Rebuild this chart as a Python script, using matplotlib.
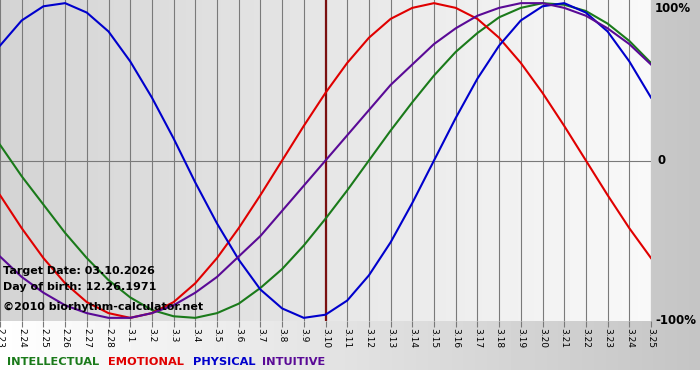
import matplotlib
matplotlib.use("Agg")
import matplotlib.pyplot as plt
import numpy as np

days = ["2.23", "2.24", "2.25", "2.26", "2.27", "2.28",
        "3.1", "3.2", "3.3", "3.4", "3.5", "3.6", "3.7", "3.8", "3.9", "3.10",
        "3.11", "3.12", "3.13", "3.14", "3.15", "3.16", "3.17", "3.18", "3.19",
        "3.20", "3.21", "3.22", "3.23", "3.24", "3.25"]

physical = [0.73, 0.89, 0.98, 1.00, 0.94, 0.82, 0.63, 0.40, 0.14, -0.14, -0.40,
            -0.63, -0.82, -0.94, -1.00, -0.98, -0.89, -0.73, -0.52, -0.27, 0.00,
            0.27, 0.52, 0.73, 0.89, 0.98, 1.00, 0.94, 0.82, 0.63, 0.40]
emotional = [-0.22, -0.43, -0.62, -0.78, -0.90, -0.97, -1.00, -0.97, -0.90, -0.78,
             -0.62, -0.43, -0.22, 0.00, 0.22, 0.43, 0.62, 0.78, 0.90, 0.97, 1.00,
             0.97, 0.90, 0.78, 0.62, 0.43, 0.22, 0.00, -0.22, -0.43, -0.62]
intellectual = [0.10, -0.10, -0.28, -0.46, -0.62, -0.76, -0.87, -0.95, -0.99, -1.00,
                -0.97, -0.91, -0.81, -0.69, -0.54, -0.37, -0.19, 0.00, 0.19, 0.37,
                0.54, 0.69, 0.81, 0.91, 0.97, 1.00, 0.99, 0.95, 0.87, 0.76, 0.62]
intuitive = [-0.61, -0.74, -0.84, -0.92, -0.97, -1.00, -1.00, -0.97, -0.92, -0.84,
             -0.74, -0.61, -0.48, -0.32, -0.16, 0.00, 0.16, 0.32, 0.48, 0.61, 0.74,
             0.84, 0.92, 0.97, 1.00, 1.00, 0.97, 0.92, 0.84, 0.74, 0.61]

target_idx = 15  # 3.10

green = "#1a7a1a"
red = "#e00000"
blue = "#0000cc"
purple = "#5a0a96"

fig = plt.figure(figsize=(7, 3.8), dpi=100)

# figure background: white -> gray to the right, white strip at the bottom
bg = fig.add_axes([0, 0, 1, 1], zorder=0)
grad = np.linspace(1.0, 0.77, 700)
img = np.tile(grad, (380, 1))
img[370:, :] = 1.0
bg.imshow(img, cmap="gray", vmin=0, vmax=1, aspect="auto", extent=[0, 700, 380, 0])
bg.set_axis_off()

ax = fig.add_axes([0, 1 - 321 / 380, 651 / 700, 321 / 380], zorder=1)
x = np.arange(len(days))
ax.set_xlim(0, len(days) - 1)
ax.set_ylim(-1.02, 1.02)

pg = np.tile(np.linspace(0.83, 0.975, 200), (2, 1))
ax.imshow(pg, cmap="gray", vmin=0, vmax=1, aspect="auto",
          extent=[0, len(days) - 1, -1.02, 1.02], zorder=0)

for i in x:
    ax.axvline(i, color="#7a7a7a", lw=0.8, zorder=1)
ax.axhline(0, color="#7a7a7a", lw=0.8, zorder=1)

ax.plot(x, intellectual, color=green, lw=1.5, zorder=3)
ax.plot(x, emotional, color=red, lw=1.5, zorder=3)
ax.plot(x, physical, color=blue, lw=1.5, zorder=3)
ax.plot(x, intuitive, color=purple, lw=1.5, zorder=3)
ax.axvline(target_idx, color="#7a1010", lw=1.6, zorder=2)

ax.set_xticks(x)
ax.set_xticklabels(days, rotation=270, fontsize=6.5)
ax.tick_params(axis="x", length=4, width=0.8, color="#7a7a7a", pad=1)
ax.set_yticks([])
for s in ax.spines.values():
    s.set_visible(False)

tb = ax.get_yaxis_transform()
ax.text(1.006, 0.995, "100%", transform=ax.transAxes, ha="left", va="top",
        fontsize=8.5, fontweight="bold", clip_on=False)
ax.text(1.01, 0, "0", transform=tb, ha="left", va="center",
        fontsize=8.5, fontweight="bold", clip_on=False)
ax.text(1.006, -1.02, "-100%", transform=tb, ha="left", va="center",
        fontsize=8.5, fontweight="bold", clip_on=False)

ax.text(0.005, 0.157, "Target Date: 03.10.2026", transform=ax.transAxes,
        fontsize=8, fontweight="bold", va="center", zorder=4)
ax.text(0.005, 0.107, "Day of birth: 12.26.1971", transform=ax.transAxes,
        fontsize=8, fontweight="bold", va="center", zorder=4)
ax.text(0.005, 0.045, "\u00a92010 biorhythm-calculator.net", transform=ax.transAxes,
        fontsize=8, fontweight="bold", va="center", zorder=4)

leg_y = 1 - 362 / 380
fig.text(7 / 700, leg_y, "INTELLECTUAL", color=green, fontsize=8.2,
         fontweight="bold", va="center", zorder=5)
fig.text(108 / 700, leg_y, "EMOTIONAL", color=red, fontsize=8.2,
         fontweight="bold", va="center", zorder=5)
fig.text(193 / 700, leg_y, "PHYSICAL", color=blue, fontsize=8.2,
         fontweight="bold", va="center", zorder=5)
fig.text(262 / 700, leg_y, "INTUITIVE", color=purple, fontsize=8.2,
         fontweight="bold", va="center", zorder=5)

fig.savefig("out.png", dpi=100)
